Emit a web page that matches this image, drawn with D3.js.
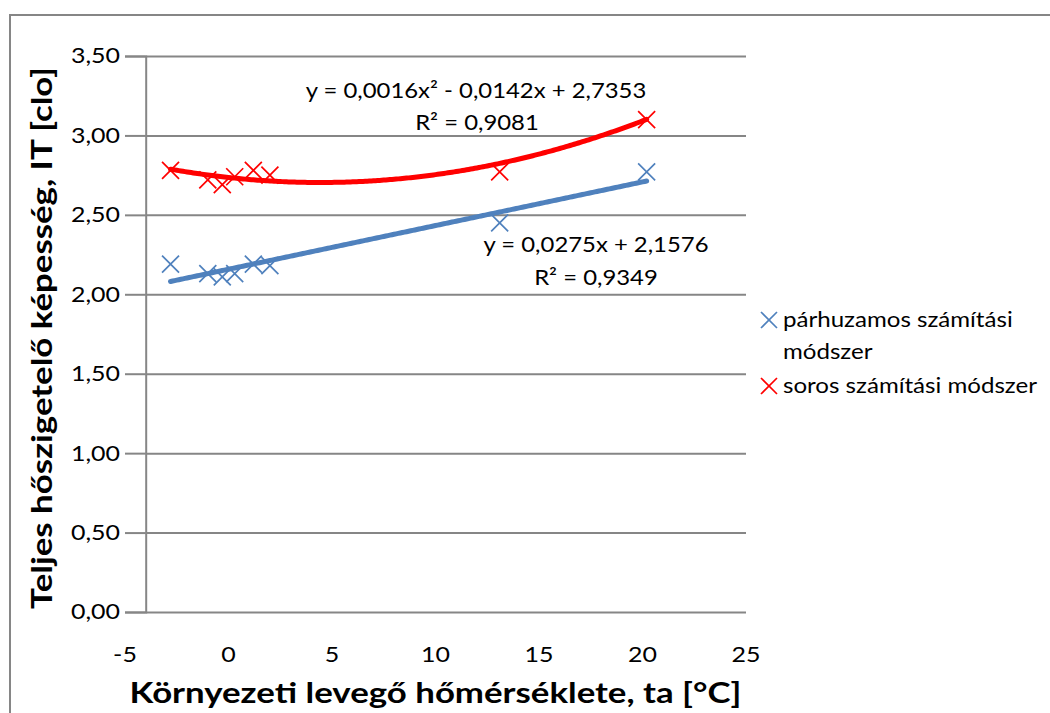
<!DOCTYPE html>
<html>
<head>
<meta charset="utf-8">
<script src="https://cdn.jsdelivr.net/npm/d3@7"></script>
<style>
  html, body { margin: 0; padding: 0; background: #fff; }
  svg { display: block; font-family: Lato, "Open Sans", sans-serif; }
</style>
</head>
<body>
<svg id="chart" width="1050" height="713"></svg>
<script>
// Ambient air temperature (°C) of each measurement
const temperatures = [-2.8, -1.0, -0.3, 0.3, 1.2, 2.0, 13.1, 20.2];
// Total insulation, parallel calculation method (clo)
const parallelIT = [2.19, 2.13, 2.11, 2.13, 2.19, 2.18, 2.45, 2.77];
// Total insulation, serial calculation method (clo)
const serialIT = [2.78, 2.72, 2.69, 2.74, 2.78, 2.75, 2.77, 3.10];

const xTicks = [-5, 0, 5, 10, 15, 20, 25];
const yTicks = [0, 0.5, 1.0, 1.5, 2.0, 2.5, 3.0, 3.5];

// Fitted trend lines (coefficients as printed on the chart)
const linearCoef = [0.0275, 2.1576];            // y = a·x + b
const quadCoef = [0.0016, -0.0142, 2.7353];     // y = a·x² + b·x + c

const seriesNames = ["párhuzamos számítási módszer", "soros számítási módszer"];
const seriesColors = ["#4F81BD", "#FF0000"];

const fmt = v => d3.format(".2f")(v).replace(".", ",");

// widen glyphs horizontally (the chart font is broader than Lato)
function widen(sel, k) {
  sel.each(function () {
    const w = this.getComputedTextLength();
    d3.select(this).attr("textLength", w * k).attr("lengthAdjust", "spacingAndGlyphs");
  });
  return sel;
}

const svg = d3.select("#chart");
const x = d3.scaleLinear().domain([-5, 25]).range([125, 746]);
const y = d3.scaleLinear().domain([0, 3.5]).range([612, 56]);
const axisX = -4;          // vertical axis crosses here
const gridColor = "#868686";

// outer chart frame
svg.append("path")
  .attr("d", "M10,713 L10,15 L1050,15")
  .attr("fill", "none").attr("stroke", gridColor).attr("stroke-width", 2);

// horizontal gridlines + y ticks
const yAxis = d3.axisLeft(y).tickValues(yTicks).tickFormat(fmt)
  .tickSize(x(axisX) - 125).tickPadding(5);
const gy = svg.append("g").attr("transform", `translate(${x(axisX)},0)`).call(yAxis);
gy.select(".domain").attr("stroke", gridColor).attr("stroke-width", 2);
gy.selectAll(".tick line").attr("stroke", gridColor).attr("stroke-width", 2);
gy.selectAll(".tick text").attr("font-size", 21.5).attr("fill", "#000")
  .attr("font-family", "Lato, sans-serif");
widen(gy.selectAll(".tick text"), 1.16);
gy.selectAll(".tick").append("line")
  .attr("x1", 0).attr("x2", x(25) - x(axisX))
  .attr("stroke", gridColor).attr("stroke-width", 2);

// x tick labels (no tick marks)
widen(svg.append("g").selectAll("text").data(xTicks).join("text")
  .attr("x", d => x(d)).attr("y", 662)
  .attr("text-anchor", "middle").attr("font-size", 21.5).text(d => d), 1.16);

// axis titles
widen(svg.append("text")
  .attr("x", (x(-5) + x(25)) / 2).attr("y", 703)
  .attr("text-anchor", "middle").attr("font-weight", "bold").attr("font-size", 29)
  .text("Környezeti levegő hőmérséklete, ta [°C]"), 1.2);
widen(svg.append("text")
  .attr("transform", `translate(52,${(y(0) + y(3.5)) / 2 + 4}) rotate(-90)`)
  .attr("text-anchor", "middle").attr("font-weight", "bold").attr("font-size", 29)
  .text("Teljes hőszigetelő képesség, IT [clo]"), 1.2);

// trend lines
const xMin = d3.min(temperatures), xMax = d3.max(temperatures);
const xs = d3.range(xMin, xMax + 0.001, 0.1);
const line = d3.line().x(d => x(d[0])).y(d => y(d[1]));
svg.append("path")
  .datum(xs.map(t => [t, linearCoef[0] * t + linearCoef[1]]))
  .attr("d", line).attr("fill", "none")
  .attr("stroke", seriesColors[0]).attr("stroke-width", 5).attr("stroke-linecap", "round");
svg.append("path")
  .datum(xs.map(t => [t, quadCoef[0] * t * t + quadCoef[1] * t + quadCoef[2]]))
  .attr("d", line).attr("fill", "none")
  .attr("stroke", seriesColors[1]).attr("stroke-width", 5).attr("stroke-linecap", "round");

// X-shaped markers
function cross(g, cx, cy, r, color) {
  g.append("path")
    .attr("d", `M${cx - r},${cy - r}L${cx + r},${cy + r}M${cx - r},${cy + r}L${cx + r},${cy - r}`)
    .attr("stroke", color).attr("stroke-width", 1.7).attr("fill", "none");
}
const marks = svg.append("g");
[parallelIT, serialIT].forEach((vals, i) => {
  vals.forEach((v, j) => cross(marks, x(temperatures[j]), y(v), 8.5, seriesColors[i]));
});

// trend equations
const eq = svg.append("g").attr("font-size", 21.5).attr("text-anchor", "middle");
widen(eq.append("text").attr("x", 476).attr("y", 98).text("y = 0,0016x² - 0,0142x + 2,7353"), 1.11);
widen(eq.append("text").attr("x", 477).attr("y", 130).text("R² = 0,9081"), 1.11);
widen(eq.append("text").attr("x", 596).attr("y", 252).text("y = 0,0275x + 2,1576"), 1.11);
widen(eq.append("text").attr("x", 596).attr("y", 285).text("R² = 0,9349"), 1.11);

// legend
const lg = svg.append("g").attr("font-size", 21.5);
cross(lg, 769, 320, 8, seriesColors[0]);
widen(lg.append("text").attr("x", 783).attr("y", 327).text("párhuzamos számítási"), 1.12);
widen(lg.append("text").attr("x", 783).attr("y", 359).text("módszer"), 1.12);
cross(lg, 769, 386, 8, seriesColors[1]);
widen(lg.append("text").attr("x", 783).attr("y", 393).text(seriesNames[1]), 1.12);
</script>
</body>
</html>
